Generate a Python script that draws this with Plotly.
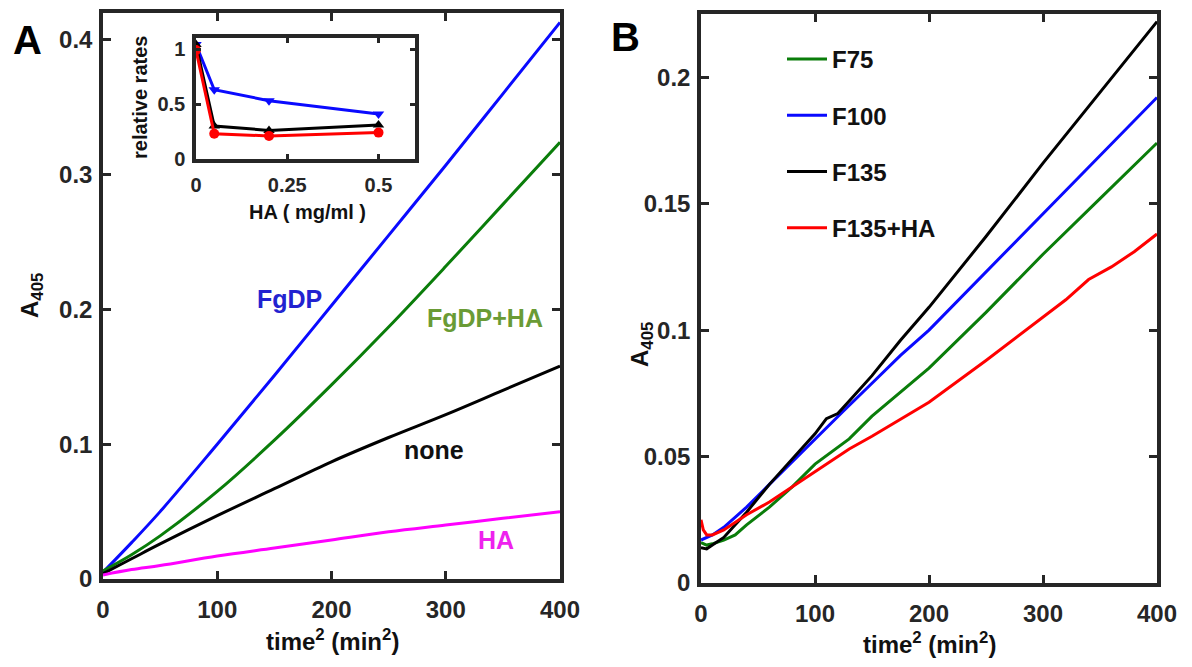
import plotly.graph_objects as go

# ---- Panel A: absorbance vs time^2 ----
t_a = [0, 25, 50, 100, 150, 200, 250, 300, 350, 400]
fgdp = [0.005, 0.027, 0.050, 0.100, 0.151, 0.203, 0.255, 0.307, 0.360, 0.413]
fgdp_ha = [0.006, 0.018, 0.032, 0.065, 0.103, 0.144, 0.187, 0.232, 0.278, 0.324]
none = [0.004, 0.015, 0.026, 0.047, 0.067, 0.087, 0.105, 0.122, 0.140, 0.158]
ha_only = [0.003, 0.007, 0.010, 0.017, 0.023, 0.029, 0.035, 0.040, 0.045, 0.050]

# ---- Inset: relative rates vs HA concentration ----
ha_conc = [0, 0.05, 0.2, 0.5]
rate_blue = [1.04, 0.63, 0.53, 0.41]
rate_black = [1.04, 0.30, 0.26, 0.31]
rate_red = [0.99, 0.23, 0.21, 0.24]

# ---- Panel B: fibrinogen fragments ----
t_b75 = [0, 5, 10, 20, 30, 40, 60, 80, 100, 130, 150, 200, 250, 300, 350, 400]
f75 = [0.016, 0.015, 0.0155, 0.017, 0.019, 0.023, 0.030, 0.038, 0.047, 0.057, 0.066, 0.085, 0.107, 0.130, 0.152, 0.174]
t_b100 = [0, 5, 10, 20, 30, 40, 60, 80, 100, 125, 150, 175, 200, 250, 300, 350, 400]
f100 = [0.017, 0.018, 0.019, 0.022, 0.026, 0.030, 0.039, 0.048, 0.057, 0.068, 0.079, 0.090, 0.100, 0.123, 0.146, 0.169, 0.192]
t_b135 = [0, 5, 10, 20, 30, 40, 60, 80, 100, 110, 120, 130, 150, 175, 200, 250, 300, 350, 400]
f135 = [0.014, 0.0135, 0.015, 0.018, 0.023, 0.028, 0.039, 0.049, 0.059, 0.065, 0.067, 0.072, 0.082, 0.096, 0.109, 0.137, 0.166, 0.194, 0.222]
t_bha = [0, 2, 5, 10, 20, 30, 40, 60, 80, 100, 130, 150, 200, 250, 300, 320, 340, 360, 380, 400]
f135_ha = [0.025, 0.021, 0.019, 0.019, 0.021, 0.024, 0.027, 0.032, 0.038, 0.044, 0.053, 0.058, 0.0715, 0.088, 0.105, 0.112, 0.120, 0.125, 0.131, 0.138]

FONT = "Liberation Sans, Arial, sans-serif"
INK = "#262626"
BLUE = "#0a0aff"
GREEN = "#0a7d0a"
BLACK = "#000000"
MAGENTA = "#ff00ff"
RED = "#ff0000"

fig = go.Figure()

# Panel A curves
for y, c in [(fgdp, BLUE), (fgdp_ha, GREEN), (none, BLACK), (ha_only, MAGENTA)]:
    fig.add_trace(go.Scatter(x=t_a, y=y, mode="lines", line=dict(color=c, width=3, shape="spline"),
                             xaxis="x", yaxis="y", showlegend=False))

# Inset curves
for y, c, sym in [(rate_blue, BLUE, "triangle-down"), (rate_black, BLACK, "triangle-up"),
                  (rate_red, RED, "circle")]:
    fig.add_trace(go.Scatter(x=ha_conc, y=y, mode="lines+markers",
                             line=dict(color=c, width=3), marker=dict(symbol=sym, size=10, color=c),
                             xaxis="x3", yaxis="y3", showlegend=False))

# Panel B curves with legend
for x, y, c, name in [(t_b75, f75, GREEN, "F75"), (t_b100, f100, BLUE, "F100"),
                      (t_b135, f135, BLACK, "F135"), (t_bha, f135_ha, RED, "F135+HA")]:
    fig.add_trace(go.Scatter(x=x, y=y, mode="lines", name=name, legendgroup=name,
                             line=dict(color=c, width=3), xaxis="x2", yaxis="y2"))

tick_font = dict(family=FONT, size=24, color=INK, weight="bold")
inset_font = dict(family=FONT, size=20, color=INK, weight="bold")


def axis(domain, rng, vals, texts, anchor, font=tick_font, ticklen=8, standoff=None):
    ax = dict(domain=domain, range=rng, tickvals=vals, ticktext=texts, anchor=anchor,
              ticks="inside", ticklen=ticklen, tickwidth=3, tickcolor=INK,
              showline=True, linewidth=3.5, linecolor=INK, mirror="ticks",
              showgrid=False, zeroline=False, tickfont=font, fixedrange=True,
              automargin=False)
    if standoff is not None:
        ax["ticklabelstandoff"] = standoff
    return ax


W, H = 1192, 667


def px_x(p):
    return p / W


def px_y(p):
    return 1 - p / H


fig.update_layout(
    width=W, height=H, margin=dict(l=0, r=0, t=0, b=0, autoexpand=False),
    paper_bgcolor="white", plot_bgcolor="white",
    xaxis=axis([px_x(103), px_x(560)], [0, 400], [0, 100, 200, 300, 400],
               ["0", "100", "200", "300", "400"], "y", standoff=6),
    yaxis=axis([px_y(579), px_y(13)], [0, 0.42], [0, 0.1, 0.2, 0.3, 0.4],
               ["0", "0.1", "0.2", "0.3", "0.4"], "x", standoff=2),
    xaxis2=axis([px_x(701), px_x(1157)], [0, 400], [0, 100, 200, 300, 400],
                ["0", "100", "200", "300", "400"], "y2", standoff=6),
    yaxis2=axis([px_y(583), px_y(14)], [0, 0.225], [0, 0.05, 0.1, 0.15, 0.2],
                ["0", "0.05", "0.1", "0.15", "0.2"], "x2", standoff=2),
    xaxis3=axis([px_x(196), px_x(415)], [0, 0.6], [0, 0.25, 0.5], ["0", "0.25", "0.5"], "y3",
                font=inset_font, ticklen=5, standoff=5),
    yaxis3=axis([px_y(159), px_y(38)], [0, 1.1], [0, 0.5, 1], ["0", "0.5", "1"], "x3",
                font=inset_font, ticklen=5, standoff=3),
    legend=dict(x=px_x(782), y=px_y(37), xanchor="left", yanchor="top",
                font=dict(family=FONT, size=24, color="#111111", weight="bold"),
                bgcolor="rgba(0,0,0,0)", tracegroupgap=22, itemwidth=40),
)

title_font = dict(family=FONT, size=24, color="#111", weight="bold")
inset_title_font = dict(family=FONT, size=20, color="#111", weight="bold")


def note(text, x, y, font, ref="paper", angle=0):
    if ref == "paper":
        x, y, xr, yr = px_x(x), px_y(y), "paper", "paper"
    else:
        xr, yr = "x", "y"
    return dict(text=text, x=x, y=y, xref=xr, yref=yr, showarrow=False, textangle=angle,
                xanchor="center", yanchor="middle", font=font)


annotations = [
    # panel letters
    note("A", 27, 40, dict(family=FONT, size=40, color="#000", weight="bold")),
    note("B", 625, 37, dict(family=FONT, size=40, color="#000", weight="bold")),
    # axis titles
    note("A<sub>405</sub>", 31, 296, title_font, angle=-90),
    note("A<sub>405</sub>", 641, 345, title_font, angle=-90),
    note("time<sup>2</sup> (min<sup>2</sup>)", 332, 640, title_font),
    note("time<sup>2</sup> (min<sup>2</sup>)", 929, 643, title_font),
    # inset titles
    note("relative rates", 140, 98, inset_title_font, angle=-90),
    note("HA ( mg/ml )", 307, 212, inset_title_font),
    # curve labels in panel A
    note("FgDP", 163, 0.208, dict(family=FONT, size=25, color="#2222d0", weight="bold"), ref="data"),
    note("FgDP+HA", 334, 0.194, dict(family=FONT, size=25, color="#6a9b35", weight="bold"), ref="data"),
    note("none", 290, 0.096, dict(family=FONT, size=25, color="#111", weight="bold"), ref="data"),
    note("HA", 344, 0.029, dict(family=FONT, size=25, color="#ee22ee", weight="bold"), ref="data"),
]
fig.update_layout(annotations=annotations)

fig.write_html("out.html")
